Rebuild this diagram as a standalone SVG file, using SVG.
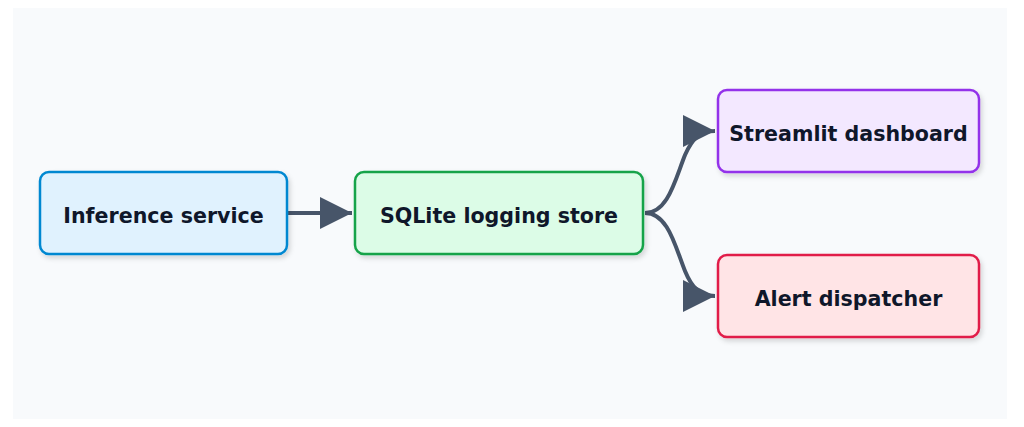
<svg xmlns="http://www.w3.org/2000/svg" width="1024" height="427" viewBox="0 0 1024 427">
<defs>
<style>
.node rect{stroke-width:2.5;filter:url(#sh)}
.node text{font-family:"DejaVu Sans",sans-serif;font-weight:bold;font-size:20.6px;fill:#0f172a;text-anchor:middle;dominant-baseline:central}
.edge{fill:none;stroke:#475569;stroke-width:4;marker-end:url(#arr)}
</style>
<filter id="sh" x="-10%" y="-20%" width="125%" height="150%">
<feDropShadow dx="2" dy="3" stdDeviation="2.5" flood-color="#000" flood-opacity="0.15"/>
</filter>
<marker id="arr" viewBox="0 0 10 10" refX="10" refY="5" markerUnits="userSpaceOnUse" markerWidth="32" markerHeight="32" orient="auto">
<path d="M0,0 L10,5 L0,10 z" fill="#475569"/>
</marker>
</defs>
<rect width="1024" height="427" fill="#ffffff"/>
<rect x="13" y="8" width="994" height="411" fill="#f8fafc"/>
<g id="connectors">
<path class="edge" d="M288,213 L352,213"/>
<path class="edge" d="M645,213 C668,213 675,180 685,155 C692,139 700,131 715,131"/>
<path class="edge" d="M645,213 C668,213 675,246 685,271 C692,288 700,296 715,296"/>
</g>
<g id="inference" class="node">
<rect x="40" y="172" width="247" height="82" rx="9" fill="#e0f2fe" stroke="#0288d1"/>
<text x="163.5" y="215.5">Inference service</text>
</g>
<g id="sqlite" class="node">
<rect x="355" y="172" width="288" height="82" rx="9" fill="#dcfce7" stroke="#16a34a"/>
<text x="499" y="215.5">SQLite logging store</text>
</g>
<g id="streamlit" class="node">
<rect x="718" y="90" width="261" height="82" rx="9" fill="#f3e8ff" stroke="#9333ea"/>
<text x="848.5" y="133.5">Streamlit dashboard</text>
</g>
<g id="alert" class="node">
<rect x="718" y="255" width="261" height="82" rx="9" fill="#ffe4e6" stroke="#e11d48"/>
<text x="848.5" y="298.5">Alert dispatcher</text>
</g>
</svg>
